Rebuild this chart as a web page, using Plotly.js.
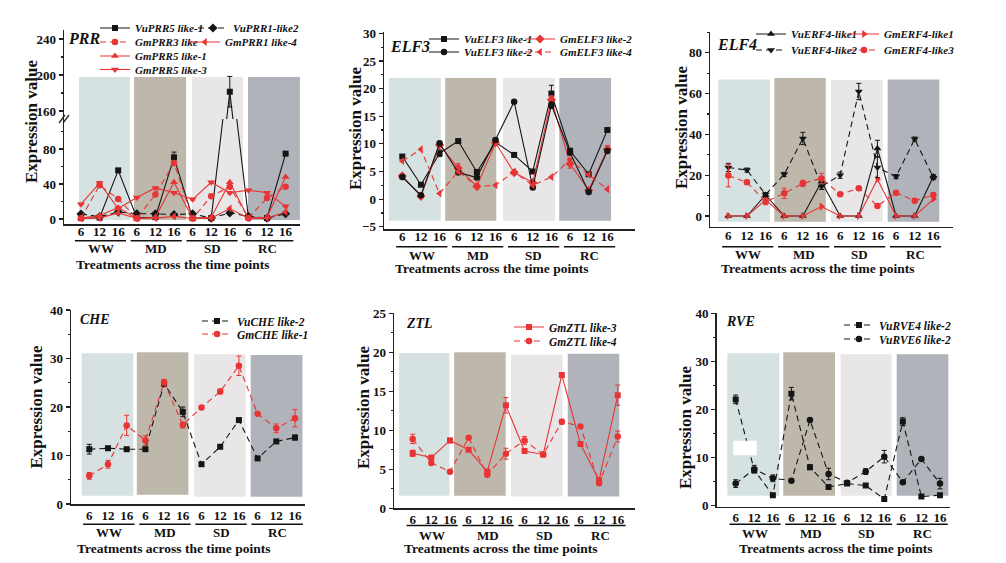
<!DOCTYPE html>
<html><head><meta charset="utf-8">
<script src="https://cdn.plot.ly/plotly-3.0.1.min.js"></script>
<style>html,body{margin:0;padding:0;background:#fff;}#chart{width:1006px;height:563px;}</style>
</head><body><div id="chart"></div>
<script>
// ---------------- DATA ----------------
const timePoints = ['6', '12', '16'];
const treatments = ['WW', 'MD', 'SD', 'RC'];
const yTitle = 'Expression value';
const xTitle = 'Treatments across the time points';

// PRR
const vuPRR5like1    = [1.0, 1.5, 55.6, 1.5, 2.0, 70.5, 1.0, 1.0, 181.4, 2.0, 1.0, 74.7];
const vuPRR5like1Err = [0, 0, 1.5, 0, 0, 6, 0, 0, 17, 0, 0, 1.5];
const vuPRR1like2    = [5.7, 2.7, 8.0, 6.0, 6.0, 5.0, 6.0, 1.0, 7.0, 3.0, 1.0, 6.0];
const gmPRR3like     = [1.0, 38.5, 23.0, 0.5, 28.0, 64.0, 0.5, 26.0, 37.0, 1.0, 24.0, 37.0];
const gmPRR1like4    = [0.5, 1.0, 7.0, 0.5, 1.0, 3.0, 0.5, 1.0, 12.0, 1.0, 1.0, 8.0];
const gmPRR5like1    = [1.0, 4.0, 13.0, 0.5, 2.0, 42.0, 0.5, 2.0, 42.0, 1.0, 2.0, 48.0];
const gmPRR5like3    = [17.0, 41.0, 12.0, 24.5, 35.5, 30.0, 22.5, 42.0, 30.0, 33.0, 30.0, 14.5];
const gmPRR5like3Err = [1, 2, 1, 1, 1, 1, 1, 1, 1.5, 1, 1, 1];

// ELF3
const vuELF3like1    = [7.7, 2.6, 8.3, 10.5, 4.9, 10.3, 8.0, 5.0, 19.1, 8.75, 4.5, 12.5];
const vuELF3like1Err = [0.3, 0.2, 0.6, 0.2, 0.3, 0.4, 0.2, 0.3, 1.5, 0.3, 0.2, 0.3];
const vuELF3like2    = [4.0, 0.7, 10.1, 4.8, 3.9, 10.7, 17.6, 2.1, 17.0, 8.4, 1.3, 8.7];
const vuELF3like2Err = [0.2, 0.2, 0.3, 0.2, 0.2, 0.3, 0.2, 0.2, 0.6, 0.2, 0.2, 0.3];
const gmELF3like2    = [4.2, 0.5, 9.8, 5.6, 2.3, 10.2, 4.8, 3.0, 18.0, 6.4, 1.6, 9.0];
const gmELF3like2Err = [0.3, 0.2, 0.3, 0.8, 0.3, 0.3, 0.3, 0.3, 0.7, 0.8, 0.2, 0.7];
const gmELF3like4    = [6.9, 9.0, 1.0, 5.0, 2.3, 2.5, 4.9, 2.5, 4.0, 7.1, 4.4, 1.8];

// ELF4
const vuERF4like1    = [0, 0, 10.3, 0, 0, 16.8, 0, 0, 33.1, 0, 0, 19.3];
const vuERF4like1Err = [0, 0, 1, 0, 0, 2, 0, 0, 4, 0, 0, 1];
const vuERF4like2    = [23.8, 22.5, 10.5, 20.4, 38.0, 14.5, 20.0, 61.0, 23.8, 19.3, 37.7, 18.8];
const vuERF4like2Err = [2, 1, 1, 1, 3, 1.5, 1.5, 4, 5, 1, 1, 1];
const gmERF4like1    = [0, 0, 7.8, 0, 0, 4.6, 0, 0, 18.0, 0, 0, 8.3];
const gmERF4like3    = [19.8, 16.5, 7.0, 11.1, 16.0, 18.4, 10.6, 13.6, 4.9, 11.4, 7.5, 10.3];
const gmERF4like3Err = [5.5, 1, 1.5, 2.5, 1.5, 2.5, 0.7, 0.5, 0.7, 0.7, 1, 1.2];

// CHE
const vuCHElike2     = [11.3, 11.5, 11.3, 11.3, 24.8, 19.0, 8.2, 11.8, 17.3, 9.4, 12.9, 13.7];
const vuCHElike2Err  = [1.0, 0.3, 0.3, 0.3, 0.5, 1.0, 0.2, 0.3, 0.3, 0.3, 0.3, 0.5];
const gmCHElike1     = [5.8, 8.2, 16.2, 13.1, 25.1, 16.3, 19.9, 23.2, 28.5, 18.6, 15.6, 17.7];
const gmCHElike1Err  = [0.7, 0.8, 2.1, 1.0, 0.6, 0.6, 0.3, 0.5, 2.0, 0.3, 0.9, 1.8];

// ZTL
const gmZTLlike3     = [7.05, 6.5, 8.7, 7.5, 4.7, 13.2, 7.35, 6.9, 17.1, 8.25, 3.6, 14.5];
const gmZTLlike3Err  = [0.4, 0.1, 0.3, 0.1, 0.3, 1.0, 0.1, 0.1, 0.3, 0.1, 0.3, 1.3];
const gmZTLlike4     = [8.9, 5.8, 4.7, 9.05, 4.3, 7.0, 8.7, 6.9, 11.1, 10.5, 3.2, 9.2];
const gmZTLlike4Err  = [0.6, 0.1, 0.1, 0.1, 0.2, 0.7, 0.5, 0.1, 0.3, 0.1, 0.2, 0.7];

// RVE
const vuRVE4like2    = [22.1, 7.4, 2.2, 23.3, 8.0, 3.9, 4.6, 4.2, 1.4, 17.5, 1.9, 2.2];
const vuRVE4like2Err = [0.9, 0.5, 0.2, 1.3, 0.5, 0.3, 0.3, 0.2, 0.2, 0.8, 0.2, 0.2];
const vuRVE6like2    = [4.6, 7.6, 5.7, 5.2, 17.8, 6.6, 4.8, 7.1, 10.2, 4.9, 9.7, 4.6];
const vuRVE6like2Err = [0.8, 0.8, 0.7, 0.3, 0.3, 1.2, 0.3, 0.6, 1.3, 0.3, 0.3, 1.1];

// ---------------- LAYOUT HELPERS ----------------
const W = 1006, H = 563;
const fx = p => p / W, fy = p => 1 - p / H;
const FONT = 'Liberation Serif, Times New Roman, serif';
const RED = 'rgb(232,52,52)', BLK = '#151515', AX = '#222';
const boxColors = ['#d5e2e1', '#bdb8ab', '#e8e6e7', '#b1b3ba'];

const xs = treatments.flatMap((t, g) => timePoints.map((p, k) => g * 3 + k));
const xTickText = treatments.flatMap(() => timePoints);

const layout = {
  width: W, height: H,
  margin: {l: 0, r: 0, t: 0, b: 0, autoexpand: false},
  paper_bgcolor: '#ffffff', plot_bgcolor: 'rgba(0,0,0,0)',
  showlegend: true, shapes: [], annotations: [],
  font: {family: FONT, color: '#111'}
};
const traces = [];
let legendCount = 0;

const markerSize = {'square': 6, 'circle': 6.5, 'diamond': 7, 'triangle-up': 7, 'triangle-down': 7, 'triangle-left': 7, 'triangle-right': 7};

function addSeries(name, vals, errs, color, dashed, symbol, xa, ya, legPos, legSize) {
  const t = {
    type: 'scatter', mode: 'lines+markers', name: name, x: xs, y: vals,
    xaxis: xa, yaxis: ya,
    line: {color: color, width: 1.1, dash: dashed ? '6px,4px' : 'solid'},
    marker: {color: color, size: markerSize[symbol], symbol: symbol, line: {width: 0}}
  };
  if (errs) t.error_y = {type: 'data', array: errs, visible: true, color: color, thickness: 1, width: 2.5};
  if (legPos) {
    legendCount++;
    const lid = legendCount === 1 ? 'legend' : 'legend' + legendCount;
    layout[lid] = {
      x: fx(legPos[0] - 40), y: fy(legPos[1]), xanchor: 'left', yanchor: 'middle',
      bgcolor: 'rgba(0,0,0,0)', borderwidth: 0, itemwidth: 30,
      font: {family: FONT, size: legSize || 11, weight: 'bold', style: 'italic', color: '#111'}
    };
    t.legend = lid;
  } else {
    t.showlegend = false;
  }
  traces.push(t);
}

const tickFont = {family: FONT, size: 13, weight: 'bold', color: '#111'};
function xAxis(L, R, x0, s, anchor, standoff) {
  return {
    domain: [fx(L), fx(R)], range: [(L - x0) / s, (R - x0) / s], anchor: anchor,
    tickmode: 'array', tickvals: xs, ticktext: xTickText, ticks: '',
    ticklabelstandoff: standoff, tickfont: tickFont,
    showline: true, linecolor: AX, linewidth: 1.5,
    showgrid: false, zeroline: false, fixedrange: true
  };
}
function yAxis(bottom, top, range, anchor, opts) {
  return Object.assign({
    domain: [fy(bottom), fy(top)], range: range, anchor: anchor,
    ticks: 'outside', ticklen: 4, tickwidth: 1.2, tickcolor: AX, tickfont: tickFont,
    showline: true, linecolor: AX, linewidth: 1.5,
    showgrid: false, zeroline: false, fixedrange: true
  }, opts);
}

// ---------------- AXES ----------------
layout.xaxis  = xAxis(64, 300, 81, 18.6, 'y', -5);
layout.yaxis  = yAxis(224, 119, [-5.71, 114.29], 'x', {tickmode: 'array', tickvals: [0, 40, 80], minor: {tickmode: 'array', tickvals: [20, 60, 100], ticks: 'outside', ticklen: 2, tickcolor: AX}});
layout.yaxis2 = yAxis(119, 30, [151.1, 250], 'x', {tickmode: 'array', tickvals: [160, 200, 240], minor: {tickmode: 'array', tickvals: [180, 220], ticks: 'outside', ticklen: 2, tickcolor: AX}});

layout.xaxis2 = xAxis(384, 635, 402.3, 18.64, 'y3', -5);
layout.yaxis3 = yAxis(229, 32, [-5.41, 30.24], 'x2', {tickmode: 'linear', tick0: 0, dtick: 5, minor: {dtick: 2.5, ticks: 'outside', ticklen: 2, tickcolor: AX}});

layout.xaxis3 = xAxis(710, 953, 728.3, 18.64, 'y4', -4);
layout.yaxis4 = yAxis(226.7, 32, [-5.24, 90.15], 'x3', {tickmode: 'linear', tick0: 0, dtick: 20, minor: {dtick: 10, ticks: 'outside', ticklen: 2, tickcolor: AX}});

layout.xaxis4 = xAxis(71, 305, 89.3, 18.7, 'y5', -1);
layout.yaxis5 = yAxis(504, 310, [0, 40], 'x4', {tickmode: 'linear', tick0: 0, dtick: 10, minor: {dtick: 5, ticks: 'outside', ticklen: 2, tickcolor: AX}});

layout.xaxis5 = xAxis(394, 635, 412.7, 18.64, 'y6', -1);
layout.yaxis6 = yAxis(508.3, 313.3, [0, 25], 'x5', {tickmode: 'linear', tick0: 0, dtick: 5, minor: {dtick: 2.5, ticks: 'outside', ticklen: 2, tickcolor: AX}});

layout.xaxis6 = xAxis(716.7, 950, 735.7, 18.57, 'y7', -2);
layout.yaxis7 = yAxis(506.7, 313.3, [-0.2, 40], 'x6', {tickmode: 'linear', tick0: 0, dtick: 10, minor: {dtick: 5, ticks: 'outside', ticklen: 2, tickcolor: AX}});

// ---------------- BACKGROUND BOXES ----------------
function boxes(xref, yref, spans, y0s, y1s) {
  spans.forEach((sp, g) => {
    layout.shapes.push({type: 'rect', xref: xref, yref: yref, x0: sp[0], x1: sp[1],
      y0: Array.isArray(y0s) ? y0s[g] : y0s, y1: Array.isArray(y1s) ? y1s[g] : y1s,
      fillcolor: boxColors[g], line: {width: 0}, layer: 'below'});
  });
}
const prrSpans = [[-0.11, 2.63], [2.85, 5.65], [5.97, 8.71], [8.98, 11.77]];
boxes('x', 'y', prrSpans, -1.1, 114.29);
boxes('x', 'y2', prrSpans, 151.1, 197.8);
boxes('x2', 'y3', [[-0.72, 2.06], [2.3, 5.04], [5.4, 8.2], [8.42, 11.2]], -3.9, 21.9);
boxes('x3', 'y4', [[-0.54, 2.24], [2.47, 5.23], [5.51, 8.28], [8.55, 11.32]], -2.8, [66.9, 67.6, 66.6, 66.9]);
boxes('x4', 'y5', [[-0.41, 2.35], [2.54, 5.3], [5.61, 8.36], [8.63, 11.4]], [1.7, 1.9, 1.5, 1.5], [31.1, 31.3, 30.9, 30.7]);
boxes('x5', 'y6', [[-0.73, 1.97], [2.22, 4.99], [5.27, 8.03], [8.32, 11.08]], [1.6, 1.6, 1.5, 1.5], [19.9, 20.0, 19.7, 19.8]);
boxes('x6', 'y7', [[-0.45, 2.35], [2.56, 5.35], [5.65, 8.4], [8.67, 11.45]], 2.1, [31.7, 31.9, 31.5, 31.5]);
// white patch in RVE panel
layout.shapes.push({type: 'rect', xref: 'x6', yref: 'y7', x0: -0.13, x1: 1.13, y0: 10.5, y1: 13.5, fillcolor: '#ffffff', line: {width: 0}, layer: 'above'});

// axis break marks on PRR
[[59, 65], [63, 69]].forEach(p => layout.shapes.push({type: 'line', xref: 'paper', yref: 'paper',
  x0: fx(p[0]), x1: fx(p[1]), y0: fy(123), y1: fy(115), line: {color: AX, width: 1.3}}));

// ---------------- GROUP UNDERLINES / LABELS / TITLES ----------------
function groupDecor(xref, ulY, lblY) {
  treatments.forEach((t, g) => {
    layout.shapes.push({type: 'line', xref: xref, yref: 'paper', x0: 3 * g - 0.33, x1: 3 * g + 2.42,
      y0: fy(ulY), y1: fy(ulY), line: {color: '#111', width: 1.5}});
    layout.annotations.push({xref: xref, yref: 'paper', x: 3 * g + 1.05, y: fy(lblY), text: t,
      showarrow: false, xanchor: 'center', yanchor: 'middle', borderpad: 0,
      font: {family: FONT, size: 13, weight: 'bold', color: '#111'}});
  });
}
groupDecor('x', 240.7, 248.5);
groupDecor('x2', 246.7, 255.5);
groupDecor('x3', 246.7, 254.5);
groupDecor('x4', 524.3, 532.5);
groupDecor('x5', 525.5, 535);
groupDecor('x6', 524.3, 533.5);

function titles(xc, xy, yx, yy) {
  layout.annotations.push({xref: 'paper', yref: 'paper', x: fx(xc), y: fy(xy), text: xTitle, showarrow: false,
    xanchor: 'center', yanchor: 'middle', borderpad: 0, font: {family: FONT, size: 13.5, weight: 'bold', color: '#111'}});
  layout.annotations.push({xref: 'paper', yref: 'paper', x: fx(yx), y: fy(yy), text: yTitle, showarrow: false,
    textangle: -90, xanchor: 'center', yanchor: 'middle', font: {family: FONT, size: 17, weight: 'bold', color: '#111'}});
}
titles(172, 264.5, 31, 122);
titles(491.7, 268, 356, 129);
titles(817, 268, 681, 128);
titles(173, 548, 35.5, 407);
titles(500.7, 548, 363, 408);
titles(835, 548.5, 685, 428);

function panelLabel(text, x, y, size) {
  layout.annotations.push({xref: 'paper', yref: 'paper', x: fx(x), y: fy(y), text: text, showarrow: false,
    xanchor: 'center', yanchor: 'middle', font: {family: FONT, size: size, weight: 'bold', style: 'italic', color: '#111'}});
}
panelLabel('PRR', 84, 38.5, 16);
panelLabel('ELF3', 410, 46.7, 16);
panelLabel('ELF4', 737, 45, 16);
panelLabel('CHE', 95, 319, 14);
panelLabel('ZTL', 419, 323, 14);
panelLabel('RVE', 740, 321, 14);

// ---------------- SERIES ----------------
// PRR
addSeries('VuPRR5 like-1', vuPRR5like1, vuPRR5like1Err, BLK, false, 'square', 'x', 'y', [135, 28]);
addSeries('VuPRR5 like-1', vuPRR5like1, vuPRR5like1Err, BLK, false, 'square', 'x', 'y2', null);
addSeries('VuPRR1-like2', vuPRR1like2, null, BLK, true, 'diamond', 'x', 'y', [233, 28]);
addSeries('GmPRR3 like', gmPRR3like, null, RED, true, 'circle', 'x', 'y', [135, 42]);
addSeries('GmPRR1 like-4', gmPRR1like4, null, RED, false, 'triangle-left', 'x', 'y', [225, 42]);
addSeries('GmPRR5 like-1', gmPRR5like1, null, RED, false, 'triangle-up', 'x', 'y', [135, 56]);
addSeries('GmPRR5 like-3', gmPRR5like3, gmPRR5like3Err, RED, false, 'triangle-down', 'x', 'y', [135, 69.5]);
// ELF3
addSeries('VuELF3 like-1', vuELF3like1, vuELF3like1Err, BLK, false, 'square', 'x2', 'y3', [464, 39]);
addSeries('GmELF3 like-2', gmELF3like2, gmELF3like2Err, RED, false, 'diamond', 'x2', 'y3', [560, 39]);
addSeries('VuELF3 like-2', vuELF3like2, vuELF3like2Err, BLK, false, 'circle', 'x2', 'y3', [464, 52]);
addSeries('GmELF3 like-4', gmELF3like4, null, RED, true, 'triangle-left', 'x2', 'y3', [560, 52]);
// ELF4
addSeries('VuERF4-like1', vuERF4like1, vuERF4like1Err, BLK, false, 'triangle-up', 'x3', 'y4', [791, 34]);
addSeries('GmERF4-like1', gmERF4like1, null, RED, false, 'triangle-right', 'x3', 'y4', [884, 34]);
addSeries('VuERF4-like2', vuERF4like2, vuERF4like2Err, BLK, true, 'triangle-down', 'x3', 'y4', [791, 50]);
addSeries('GmERF4-like3', gmERF4like3, gmERF4like3Err, RED, true, 'circle', 'x3', 'y4', [884, 50]);
// CHE
addSeries('VuCHE like-2', vuCHElike2, vuCHElike2Err, BLK, true, 'square', 'x4', 'y5', [237, 321], 11.5);
addSeries('GmCHE like-1', gmCHElike1, gmCHElike1Err, RED, true, 'circle', 'x4', 'y5', [237, 334], 11.5);
// ZTL
addSeries('GmZTL like-3', gmZTLlike3, gmZTLlike3Err, RED, false, 'square', 'x5', 'y6', [549, 327], 11.5);
addSeries('GmZTL like-4', gmZTLlike4, gmZTLlike4Err, RED, true, 'circle', 'x5', 'y6', [549, 341], 11.5);
// RVE
addSeries('VuRVE4 like-2', vuRVE4like2, vuRVE4like2Err, BLK, true, 'square', 'x6', 'y7', [879, 325], 11.5);
addSeries('VuRVE6 like-2', vuRVE6like2, vuRVE6like2Err, BLK, true, 'circle', 'x6', 'y7', [879, 339], 11.5);

Plotly.newPlot('chart', traces, layout, {displayModeBar: false, staticPlot: true});
</script>
</body></html>
